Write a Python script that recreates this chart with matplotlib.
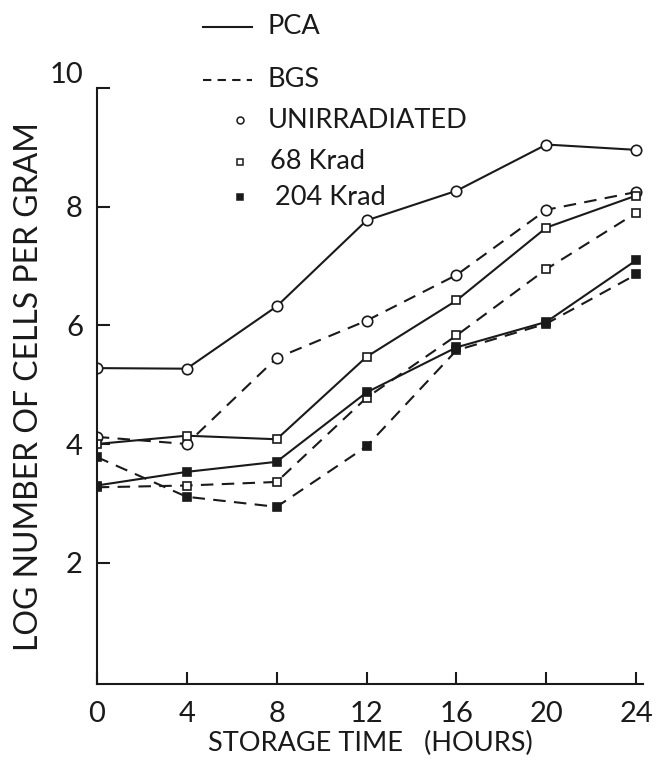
import matplotlib.pyplot as plt
from matplotlib.lines import Line2D

plt.rcParams['font.family'] = ['Lato', 'DejaVu Sans']

# storage time (hours) and log counts per gram
hours = [0, 4, 8, 12, 16, 20, 24]
pca_unirr = [5.28, 5.27, 6.32, 7.77, 8.27, 9.05, 8.96]
bgs_unirr = [4.12, 4.00, 5.45, 6.08, 6.85, 7.95, 8.25]
pca_68 = [4.00, 4.14, 4.08, 5.47, 6.42, 7.65, 8.19]
bgs_68 = [3.27, 3.30, 3.36, 4.78, 5.83, 6.95, 7.90]
pca_204 = [3.30, 3.53, 3.70, 4.87, 5.63, 6.06, 7.10]
bgs_204 = [3.78, 3.11, 2.94, 3.96, 5.58, 6.03, 6.86]

x_ticks = [0, 4, 8, 12, 16, 20, 24]
y_ticks = [2, 4, 6, 8, 10]

ink = '#1a1a1a'
dash = (0, (6, 4))

fig = plt.figure(figsize=(6.72, 7.67), dpi=100)
ax = fig.add_axes([0.144, 0.108, 0.813, 0.777])

open_circle = dict(marker='o', ms=7.5, mfc='white', mec=ink, mew=1.2)
open_square = dict(marker='s', ms=6, mfc='white', mec=ink, mew=1.2)
solid_square = dict(marker='s', ms=6, mfc=ink, mec=ink, mew=1.2)

ax.plot(hours, pca_unirr, color=ink, lw=1.5, **open_circle)
ax.plot(hours, bgs_unirr, color=ink, lw=1.5, ls=dash, **open_circle)
ax.plot(hours, pca_68, color=ink, lw=1.5, **open_square)
ax.plot(hours, bgs_68, color=ink, lw=1.5, ls=dash, **open_square)
ax.plot(hours, pca_204, color=ink, lw=1.5, **solid_square)
ax.plot(hours, bgs_204, color=ink, lw=1.5, ls=dash, **solid_square)

ax.set_xlim(0, 24.3)
ax.set_ylim(-0.05, 10)
ax.set_xticks(x_ticks)
ax.set_yticks(y_ticks)
ax.set_yticklabels(['2', '4', '6', '8', '10'])
for s in ['top', 'right']:
    ax.spines[s].set_visible(False)
for s in ['left', 'bottom']:
    ax.spines[s].set_linewidth(1.5)
    ax.spines[s].set_color(ink)
ax.tick_params(direction='in', length=9, width=1.5, color=ink,
               labelsize=21, labelcolor=ink)
ax.tick_params(axis='y', pad=10)
ax.tick_params(axis='x', pad=12)
# the top label sits a little above its tick
ax.get_yticklabels()[-1].set_va('bottom')

ax.set_xlabel('STORAGE TIME   (HOURS)', fontsize=19.5, color=ink, labelpad=3)
ax.set_ylabel('LOG NUMBER OF CELLS PER GRAM', fontsize=23, color=ink, labelpad=4)

# key drawn above the axes
kx0, kx1, tx = 0.302, 0.375, 0.398
fig.add_artist(Line2D([kx0, kx1], [0.965, 0.965], color=ink, lw=1.5))
fig.text(tx, 0.965, 'PCA', fontsize=19.5, va='center', color=ink)
fig.add_artist(Line2D([kx0, kx1], [0.896, 0.896], color=ink, lw=1.5, ls=(0, (4, 3))))
fig.text(tx, 0.896, 'BGS', fontsize=19.5, va='center', color=ink)
fig.add_artist(Line2D([0.357], [0.843], ls='none', marker='o', ms=5,
                      mfc='white', mec=ink, mew=1.1))
fig.text(tx, 0.843, 'UNIRRADIATED', fontsize=19.5, va='center', color=ink)
fig.add_artist(Line2D([0.357], [0.789], ls='none', marker='s', ms=4.5,
                      mfc='white', mec=ink, mew=1.1))
fig.text(0.402, 0.789, '68 Krad', fontsize=19.5, va='center', color=ink)
fig.add_artist(Line2D([0.357], [0.743], ls='none', marker='s', ms=4.5,
                      mfc=ink, mec=ink, mew=1.1))
fig.text(0.409, 0.743, '204 Krad', fontsize=19.5, va='center', color=ink)

fig.savefig('out.png', dpi=100)
